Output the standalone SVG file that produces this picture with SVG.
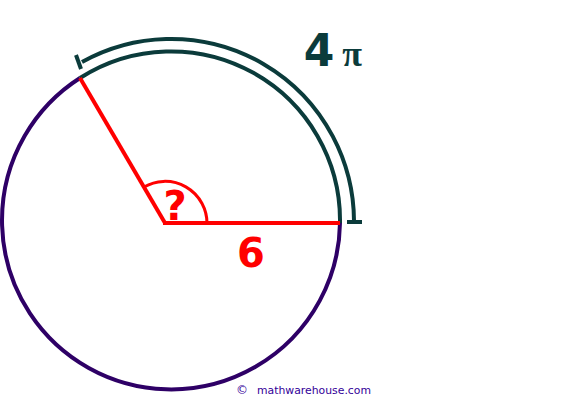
<svg xmlns="http://www.w3.org/2000/svg" width="585" height="400" viewBox="0 0 585 400">
<style>
.circ{fill:none;stroke:#2E0066;stroke-width:4}
.teal{fill:none;stroke:#0B3B3B;stroke-width:4}
.red{fill:none;stroke:#FF0000;stroke-width:4}
.redthin{fill:none;stroke:#FF0000;stroke-width:3}
.lbl{font-family:"DejaVu Sans",Verdana,sans-serif;font-weight:bold}
</style>
<rect width="585" height="400" fill="#fff"/>
<g id="circle">
<path class="circ" d="M340,223 A169,169 0 1 1 80,78"/>
<path class="teal" d="M80,78 A169,169 0 0 1 340,223"/>
</g>
<g id="arc-length">
<path class="teal" d="M82,62 A183,183 0 0 1 354,221"/>
<line class="teal" x1="76" y1="55" x2="81" y2="69"/>
<line class="teal" x1="347" y1="222" x2="362" y2="222"/>
<text class="lbl" x="319" y="66" font-size="44" fill="#0B3B3B" text-anchor="middle">4</text>
<text x="352" y="66" font-family="'Liberation Serif',serif" font-weight="bold" font-size="36" fill="#0B3B3B" text-anchor="middle">π</text>
</g>
<g id="connectors">
<line class="red" x1="165" y1="223" x2="80" y2="78"/>
<line class="red" x1="163" y1="223" x2="340" y2="223"/>
<path class="redthin" d="M144,187 A42,42 0 0 1 207,223"/>
</g>
<g id="labels">
<text class="lbl" x="175" y="220" font-size="40" fill="#FF0000" text-anchor="middle">?</text>
<text class="lbl" x="251" y="267" font-size="40" fill="#FF0000" text-anchor="middle">6</text>
<text y="394" font-family="'DejaVu Sans',Verdana,sans-serif" font-size="12" fill="#330099"><tspan x="236">©</tspan><tspan x="257" font-size="11" textLength="114" lengthAdjust="spacingAndGlyphs">mathwarehouse.com</tspan></text>
</g>
</svg>
